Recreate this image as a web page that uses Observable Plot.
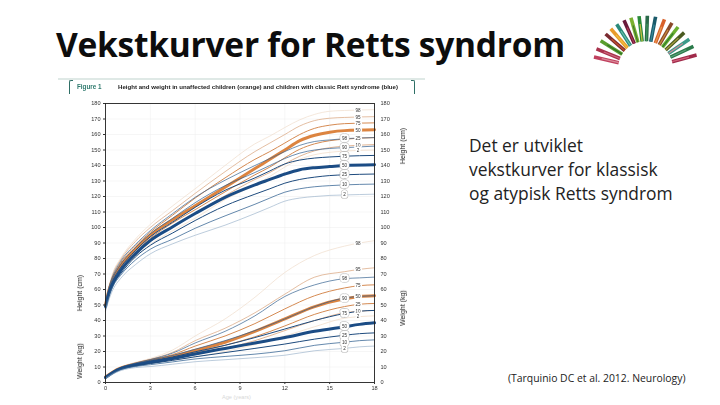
<!DOCTYPE html>
<html lang="no">
<head>
<meta charset="utf-8">
<script src="https://cdn.jsdelivr.net/npm/d3@7"></script>
<script src="https://cdn.jsdelivr.net/npm/@observablehq/plot@0.6"></script>
<style>
html,body{margin:0;padding:0;background:#fff;width:720px;height:405px;overflow:hidden}
.t{position:absolute;white-space:nowrap;color:#1a1a1a}
#title{left:56px;top:20px;font:700 33.5px/48px "Open Sans",sans-serif;letter-spacing:-.25px;color:#0d0d0d}
.side{left:469px;font:17.4px/22px "Open Sans",sans-serif;color:#222}
#cite{left:508px;top:371px;font:10.4px/14px "Open Sans",sans-serif;color:#222}
#chart{position:absolute;left:0;top:0;filter:blur(.35px)}
#logo{position:absolute;left:590px;top:11px;filter:blur(.3px)}
#rule{position:absolute;left:58px;top:78px;width:367px;height:2px;background:#dfe9e6}
.brk{position:absolute;top:80px;width:3px;height:13px;border-top:1.2px solid #2f6f66}
#bl{left:69px;border-left:1.2px solid #2f6f66;border-top-left-radius:2px}
#brr{left:411px;border-right:1.2px solid #2f6f66;border-top-right-radius:2px}
#fig{left:77px;top:83px;font:700 6.3px/8px "Liberation Sans",sans-serif;color:#2f7a6e;filter:blur(.3px)}
#figt{left:118px;top:83px;font:700 6.1px/8px "Liberation Sans",sans-serif;color:#222;filter:blur(.3px)}
#age{left:222px;top:394px;font:5.6px/7px "Liberation Sans",sans-serif;color:#d8d8d8}
.ax{position:absolute;font:7px/8px "Liberation Sans",sans-serif;color:#222;transform:translate(-50%,-50%) rotate(-90deg);white-space:nowrap;filter:blur(.3px)}
</style>
</head>
<body>
<div id="rule"></div><div class="brk" id="bl"></div><div class="brk" id="brr"></div>
<div id="chart"></div>
<div id="logo"></div>
<div class="t" id="title">Vekstkurver for Retts syndrom</div>
<div class="t" id="fig">Figure 1</div>
<div class="t" id="figt">Height and weight in unaffected children (orange) and children with classic Rett syndrome (blue)</div>
<div class="t" id="age">Age (years)</div>
<div class="ax" style="left:80px;top:293px">Height (cm)</div>
<div class="ax" style="left:80px;top:361px">Weight (kg)</div>
<div class="ax" style="left:403px;top:146px">Height (cm)</div>
<div class="ax" style="left:403px;top:308px">Weight (kg)</div>
<div class="t side" style="top:134px">Det er utviklet</div>
<div class="t side" style="top:158px">vekstkurver for klassisk</div>
<div class="t side" style="top:182px">og atypisk Retts syndrom</div>
<div class="t" id="cite">(Tarquinio DC et al. 2012. Neurology)</div>
<script>
const heightAges = [0,.25,.5,1,2,3,4.5,6,8,10,11,12,13,14,15,16,18];
const weightAges = [0,.5,1,2,3,4.5,6,8,10,12,14,16,17,18];
const percentiles = [98,95,75,50,25,10,2];
const bluePercentiles = [98,90,75,50,25,10,2];

const orangeHeight = [
 [53,63,71,80,92.5,102,114,125,140,154,159,164.5,169.5,173,175,175.5,176],
 [52,62,70,79,91,100,111,122,136,149,154.5,160,165.5,169,170.5,171,171.5],
 [51,61,68,77,88,97,108,119,132,144,149,154.5,160,164,166,167,167.5],
 [50,60,67,75,86,95,105,114,126,138,144,150,156,159.5,161.5,162.5,163],
 [49,59,66,74,84,93,103,111.5,123,134,139,145,150.5,154,156,157,158],
 [48,58,64,72,82,91,100.5,109,120.5,131,135.5,141,146,149.5,151.5,152.5,153.5],
 [47,57,63,71,81,89,98,106,118,127.5,133,139,144,147,148.5,149.3,150]
];
const blueHeight = [
 [52,62,69,78,89,98,109,119.5,130.5,140,144.5,149,153,155.5,156.5,157.3,158],
 [51,61,67.5,76,87,96,106,116,127,135.5,140,144.5,148,150,151,151.5,152.5],
 [50,60,66,74,85,94,103.5,113,124,132,136.5,141,143.5,144.8,145.5,146,146.5],
 [49,58,64,72,83,91.6,100.5,109,119.5,127.5,131,134.5,137.3,138.6,139.3,140,140.5],
 [48,57,63,70,81,88.5,96.5,104.5,114,121.5,125,128.6,131,132.5,133.5,134,134.5],
 [47,56,62,69,79,86,92.5,99.5,107.5,115,119,122.8,125,126.3,127,127.5,128],
 [46,54,60,67,76,83,89.5,95,101.5,109,113,117,119,120,120.7,121,121.5]
];
const orangeWeight = [
 [4,7.5,10,13,15.5,21,30,41,55,71,82,88,90,91.5],
 [4,7.3,9.7,12.7,15,19.5,27,35,45,57,68,71.5,73,74],
 [3.8,7,9.5,12.3,14.5,18,23.5,30,38,47.5,56,61,62.5,63],
 [3.5,6.8,9.2,11.8,14,16.8,20.6,26,33,41,49,54,55.5,56],
 [3.3,6.5,9,11.5,13.5,16,19.3,24,29.5,36.5,44,49,50.5,51],
 [3.1,6.3,8.8,11.3,13,15.5,18,22,27,33.5,40,45,46,46.5],
 [2.8,6,8.4,11,12.5,14.5,16.5,20,24.5,30,36,41.5,42.5,43]
];
const blueWeight = [
 [3.8,7.2,9.6,12.5,14.8,19,25.5,33,43,55.5,63,67,67.5,68],
 [3.6,7,9.3,12.2,14.3,17.5,21.5,27,33.5,41,49,54.5,55.5,56],
 [3.4,6.8,9.1,11.8,13.8,16.5,19.8,24,29,34.5,40,44.5,46,46.5],
 [3.2,6.5,8.9,11.3,13,15.5,18.4,22,25.5,29,33,36,37.5,38.5],
 [3,6.2,8.6,10.8,12.2,14.3,16.6,19.3,22,24.8,28,30.5,31.5,32],
 [2.8,5.9,8.2,10.3,11.5,13.3,15.2,16.8,18.3,20.5,24,26,27,27.5],
 [2.5,5.5,7.6,9.6,10.3,11.8,13.4,14.7,16,17.6,20.5,22,23,23.5]
];

const orangeColor = ["#efdccb","#d9a27a","#d58a52","#dc8440","#d58a52","#d9a27a","#efd3bb"];
const blueColor = ["#35618f","#2b5a8c","#1d4a7d","#1b4c85","#1d4a7d","#3c6a97","#8fa9c4"];
const lineWidth = [.7,.7,1,3,1,.8,.6];
const orangeLabelAge = 16.9;
const blueLabelAge = 16;

function tidy(rows, ages, pct, colors, group){
  return rows.flatMap((r,i)=>r.map((v,j)=>({age:ages[j],v,p:pct[i],c:colors[i],w:lineWidth[i],k:group+i})));
}
function labels(rows, ages, pct, at){
  return rows.map((r,i)=>({age:at,v:d3.scaleLinear(ages,r)(at),t:String(pct[i])}));
}
const curves = [
  ...tidy(orangeHeight,heightAges,percentiles,orangeColor,"oh"),
  ...tidy(orangeWeight,weightAges,percentiles,orangeColor,"ow"),
  ...tidy(blueHeight,heightAges,bluePercentiles,blueColor,"bh"),
  ...tidy(blueWeight,weightAges,bluePercentiles,blueColor,"bw")
];
const orangeTags = [
  ...labels(orangeHeight,heightAges,percentiles,orangeLabelAge),
  ...labels(orangeWeight,weightAges,percentiles,orangeLabelAge)
];
const blueTags = [
  ...labels(blueHeight,heightAges,bluePercentiles,blueLabelAge),
  ...labels(blueWeight,weightAges,bluePercentiles,blueLabelAge)
];
const yTicks = d3.range(0,181,10);
const xTicks = [0,3,6,9,12,15,18];

const groups = d3.groups(curves,d=>d.k).map(([k,rows])=>rows);
const chart = Plot.plot({
  width:720,height:405,marginLeft:105,marginRight:346,marginTop:103,marginBottom:23,
  style:{background:"transparent",fontFamily:"Liberation Sans",fontSize:"5.6px",color:"#333"},
  x:{domain:[0,18]},
  y:{domain:[0,180]},
  marks:[
    Plot.gridY(yTicks,{stroke:"#ececec",strokeOpacity:1,strokeWidth:.5}),
    Plot.gridX(xTicks,{stroke:"#ececec",strokeOpacity:1,strokeWidth:.5}),
    ...groups.map(rows=>Plot.line(rows,{x:"age",y:"v",stroke:rows[0].c,strokeWidth:rows[0].w,curve:"monotone-x"})),
    Plot.text(orangeTags,{x:"age",y:"v",text:"t",fontSize:4.6,fill:"#333",stroke:"#fff",strokeWidth:3.5}),
    Plot.text(blueTags,{x:"age",y:"v",text:"t",fontSize:4.6,fill:"none",stroke:"#b5b5b5",strokeWidth:5.2}),
    Plot.text(blueTags,{x:"age",y:"v",text:"t",fontSize:4.6,fill:"#333",stroke:"#fff",strokeWidth:4.2}),
    Plot.frame({stroke:"#222",strokeWidth:.9}),
    Plot.axisX({ticks:xTicks,tickSize:2,tickPadding:2,label:null,fontSize:5.6}),
    Plot.axisY({anchor:"left",ticks:yTicks,tickSize:2,tickPadding:3,label:null,fontSize:5.6}),
    Plot.axisY({anchor:"right",ticks:yTicks,tickSize:0,tickPadding:6,label:null,fontSize:5.6})
  ]
});
document.getElementById("chart").append(chart);

// logo: a fan of coloured sticks
const logoAngles = [167,158,148,139,131,123,114,106,97,88,79,69,60,52,43,34,25,15];
const logoColors = ["#c0405e","#a8324c","#5a9e2e","#7a2a30","#e89a2a","#2a8a7a","#6a1a3a","#7ab030","#2a8a3a","#2a6a4a","#1a5a6a","#d8602a","#8a4a2a","#6ab030","#4a5a20","#3a9a8a","#2a7a4a","#a02a4a"];
const logoAccents = ["#d98a9a","#d06a80","#2f6f2a","#c4502a","#f0c040","#6abfa8","#b03a50","#3f7a30","#c8c040","#3f9a5a","#3a8a9a","#e89a50","#c88a3a","#2f7a30","#a8a040","#d08a9a","#5aa07a","#d0607a"];
const stick = logoAngles.map((a,i)=>({a:a*Math.PI/180,c:logoColors[i],d:logoAccents[i]}));
const logo = Plot.plot({
  width:110,height:60,margin:0,
  x:{domain:[-1.04,1.04],axis:null},y:{domain:[-.05,1.08],axis:null},
  style:{background:"transparent"},
  marks:[
    Plot.link(stick,{x1:d=>.52*Math.cos(d.a),y1:d=>.52*Math.sin(d.a),x2:d=>Math.cos(d.a),y2:d=>Math.sin(d.a),stroke:d=>d.c,strokeWidth:3.6}),
    Plot.link(stick,{x1:d=>.52*Math.cos(d.a),y1:d=>.52*Math.sin(d.a),x2:d=>.85*Math.cos(d.a),y2:d=>.85*Math.sin(d.a),stroke:d=>d.d,strokeWidth:1.2})
  ]
});
document.getElementById("logo").append(logo);
</script>
</body>
</html>
